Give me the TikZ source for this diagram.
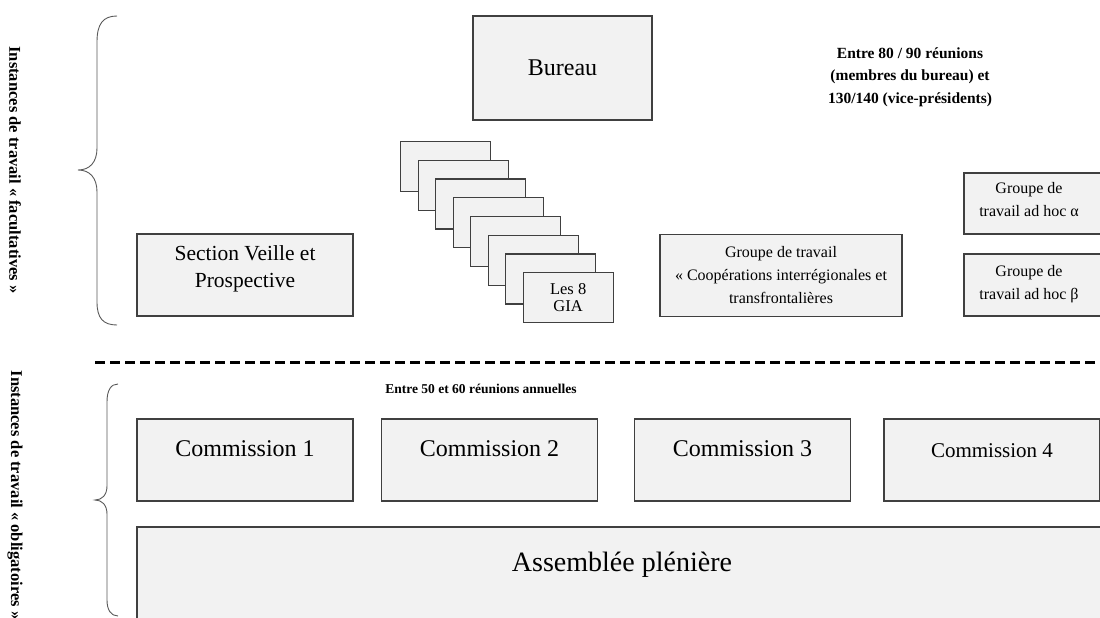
\documentclass[tikz,border=0pt]{standalone}
\usepackage{fontspec}
\setmainfont{Liberation Serif}
\definecolor{boxfill}{HTML}{F2F2F2}
\definecolor{boxline}{HTML}{404040}

\tikzset{
  box/.style={draw=boxline, fill=boxfill, line width=1.3pt, inner sep=0pt},
  bigtext/.style={font=\fontsize{24}{28}\selectfont, align=center},
  midtext/.style={font=\fontsize{21.5}{27}\selectfont, align=center},
  smalltext/.style={font=\fontsize{16}{23}\selectfont, align=center},
  notetext/.style={font=\fontsize{15.5}{22.5}\selectfont\bfseries, align=center},
  sidetext/.style={font=\fontsize{16.5}{18}\selectfont\bfseries, rotate=-90},
  bracket/.style={draw=black!65, line width=0.9pt},
}

\begin{document}
\begin{tikzpicture}[x=1pt,y=-1pt]

  \useasboundingbox (0,0) rectangle (1100,618);
  \clip (0,0) rectangle (1100,618);

  \node [sidetext] (facult) at (15,170) {Instances de travail « facultatives »};
  \node [sidetext] (oblig) at (15,495) {Instances de travail « obligatoires »};

  \draw [bracket] (117,16) .. controls (103,16) and (97,24) .. (97,42) -- (97,148)
    .. controls (97,162) and (90,170) .. (78,170) .. controls (90,170) and (97,178) .. (97,192)
    -- (97,302) .. controls (97,318) and (103,325) .. (117,325);
  \draw [bracket] (118,384) .. controls (111,384) and (107,390) .. (107,402) -- (107,486)
    .. controls (107,495) and (102,500) .. (95,500) .. controls (102,500) and (107,505) .. (107,514)
    -- (107,600) .. controls (107,610) and (111,616) .. (118,616);

  \node [box, minimum width=179pt, minimum height=104pt, bigtext] (bureau) at (562.5,68) {Bureau};
  \node [notetext] (bureaunote) at (910,77) {Entre 80 / 90 réunions\\(membres du bureau) et\\130/140 (vice-présidents)};

  \node [box, minimum width=216pt, minimum height=82pt] (veille) at (245,275) {};
  \node [midtext] (veilletext) at (245,269) {Section Veille et\\Prospective};

  \foreach \i in {0,...,7}
    \node [box, minimum width=90pt, minimum height=50pt, anchor=north west] (gia\i)
      at ({400+17.5*\i},{141+18.7*\i}) {};
  \node [smalltext, font=\fontsize{16.5}{17}\selectfont] (giatext) at (gia7.center) {Les 8\\GIA};

  \node [box, minimum width=242pt, minimum height=82pt, smalltext] (coop) at (781,275.5)
    {Groupe de travail\\« Coopérations interrégionales et\\transfrontalières};

  \node [box, minimum width=146pt, minimum height=61pt] (adhocA) at (1037,203.5) {};
  \node [smalltext] (adhocAtext) at (1029,200) {Groupe de\\travail ad hoc α};
  \node [box, minimum width=146pt, minimum height=62pt] (adhocB) at (1037,285) {};
  \node [smalltext] (adhocBtext) at (1029,284) {Groupe de\\travail ad hoc β};

  \draw [line width=3pt, dash pattern=on 10pt off 5pt] (95,362) -- (1100,362);

  \node [notetext, font=\fontsize{13.5}{16}\selectfont\bfseries] (comnote) at (481,389)
    {Entre 50 et 60 réunions annuelles};

  \foreach \x/\n in {245/1, 489.5/2, 742.5/3} {
    \node [box, minimum width=216pt, minimum height=82pt] (com\n) at (\x,460) {};
    \node [bigtext] (com\n text) at (\x,449) {Commission \n};
  }
  \node [box, minimum width=216pt, minimum height=82pt] (com4) at (992,460) {};
  \node [font=\fontsize{21}{24}\selectfont] (com4text) at (992,451) {Commission 4};

  \node [box, minimum width=983pt, minimum height=113pt] (pleniere) at (628.5,583.5) {};
  \node [font=\fontsize{28}{32}\selectfont] (plenieretext) at (622,565) {Assemblée plénière};

\end{tikzpicture}
\end{document}
